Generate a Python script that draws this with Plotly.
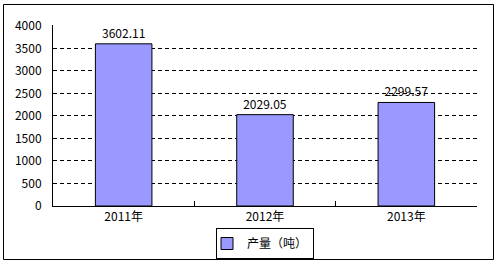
import plotly.graph_objects as go

categories = ["2011年", "2012年", "2013年"]
values = [3602.11, 2029.05, 2299.57]
labels = ["3602.11", "2029.05", "2299.57"]
series_name = "产量（吨）"
y_ticks = [0, 500, 1000, 1500, 2000, 2500, 3000, 3500, 4000]
y_max = 4000

W, H = 497, 265
L, R, T, B = 53, 20, 25, 59
pw, ph = W - L - R, H - T - B

def px_x(x):
    return (x - L) / pw

def px_y(y):
    return (H - B - y) / ph

font = dict(family="Noto Sans CJK SC, DejaVu Sans, sans-serif", size=12, color="black")

fig = go.Figure()
fig.add_trace(go.Bar(
    x=categories, y=values, name=series_name,
    marker=dict(color="#9999FF", line=dict(color="black", width=1)),
    width=0.4,
    text=labels, textposition="outside", textfont=font, cliponaxis=False,
))

fig.update_layout(
    width=W, height=H,
    margin=dict(l=L, r=R, t=T, b=B, pad=0, autoexpand=False),
    paper_bgcolor="white", plot_bgcolor="white",
    font=font,
    showlegend=True,
    legend=dict(orientation="h", x=0.5, xanchor="center", y=px_y(228), yanchor="top",
                bordercolor="black", borderwidth=1, font=font,
                itemwidth=30, tracegroupgap=0, indentation=-10),
    xaxis=dict(showline=True, linecolor="black", linewidth=1, tickson="boundaries",
               ticks="inside", ticklen=5, tickcolor="black", showgrid=False,
               tickfont=font, fixedrange=True),
    yaxis=dict(range=[0, y_max + 20], tickvals=y_ticks, showline=True, linecolor="black",
               linewidth=1, showgrid=True, gridcolor="black", griddash="4px,3px",
               gridwidth=1, zeroline=False, ticks="", tickfont=font, fixedrange=True,
               ticklabelstandoff=8),
    bargap=0.6,
    shapes=[
        dict(type="rect", xref="paper", yref="paper",
             x0=px_x(3.5), x1=px_x(493.5), y0=px_y(4.5), y1=px_y(259.5),
             line=dict(color="black", width=1), layer="below"),
    ],
)

fig.write_html("out.html")
